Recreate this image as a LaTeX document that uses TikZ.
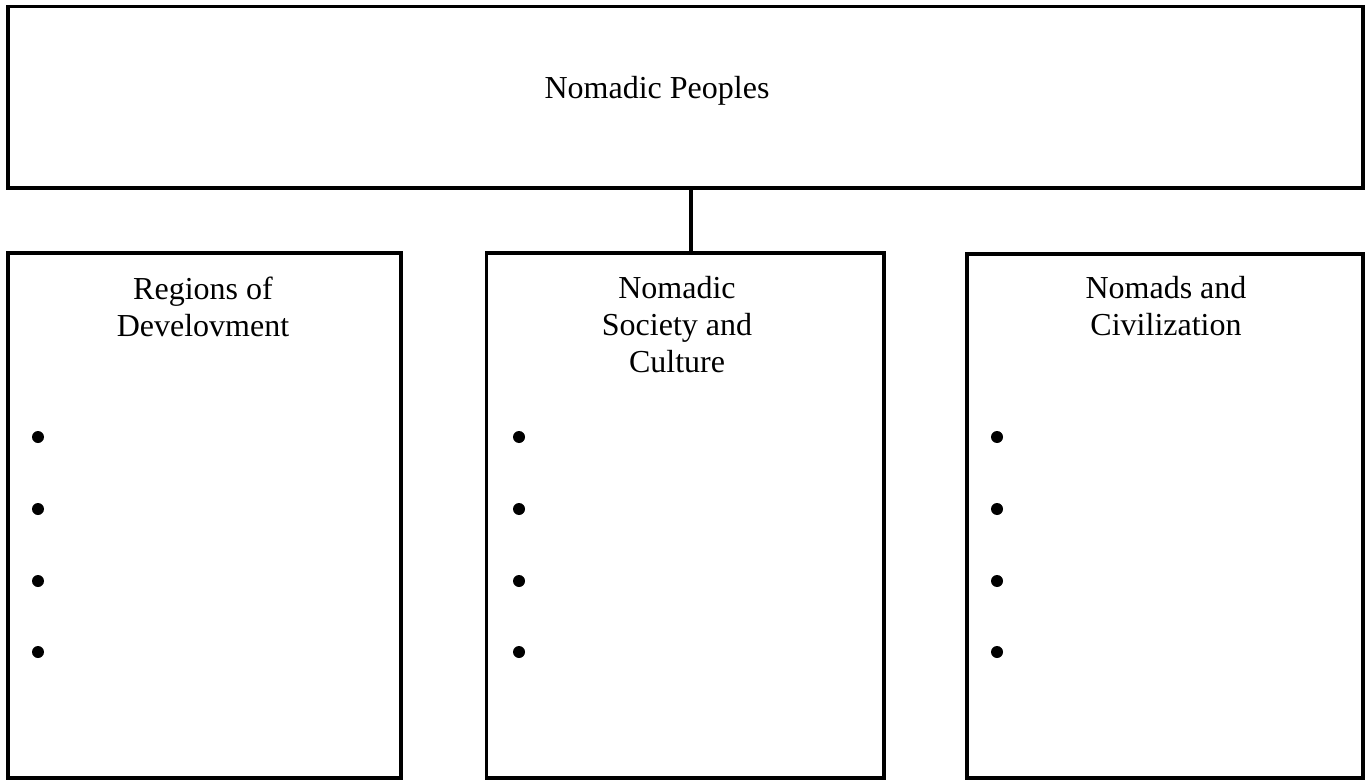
\documentclass[tikz,border=0pt]{standalone}
\usepackage{fontspec}
\setmainfont{Liberation Serif}
\usepackage{tikz}
\usetikzlibrary{positioning}

\begin{document}
\begin{tikzpicture}[
    x=0.5pt, y=-0.5pt,
    frame/.style={rectangle, draw, line width=1.8pt, inner sep=0pt},
    heading/.style={font=\fontsize{16}{18.5}\selectfont, align=center, inner sep=0pt},
    dot/.style={circle, fill, inner sep=0pt, minimum size=6pt},
    link/.style={line width=1.8pt}
]
\useasboundingbox (0,0) rectangle (1368,780);

% Boxes
\node[frame, minimum width=677.5pt, minimum height=90.75pt] (top) at (685.5,97.25) {};
\node[frame, minimum width=196.5pt, minimum height=262.5pt] (left) at (204.5,515.5) {};
\node[frame, minimum width=198.75pt, minimum height=262.5pt] (mid) at (685.25,515.5) {};
\node[frame, minimum width=198pt, minimum height=262pt] (right) at (1165,516) {};

% Headings
\node[heading, anchor=base] (toptext) at (657,99) {Nomadic Peoples};
\node[heading, anchor=north] (lefttext) at (203,277) {Regions of\\Develovment};
\node[heading, anchor=north] (midtext) at (677,276) {Nomadic\\Society and\\Culture};
\node[heading, anchor=north] (righttext) at (1166,276) {Nomads and\\Civilization};

% Bullets
\foreach \y [count=\i] in {437,509,581,652} {
  \node[dot] (lb\i) at (38,\y) {};
  \node[dot] (mb\i) at (519,\y) {};
  \node[dot] (rb\i) at (997,\y) {};
}

% Link
\draw[link] ([xshift=2.9pt]mid.north) -- ([xshift=2.9pt]mid.north |- top.south);

\end{tikzpicture}
\end{document}
